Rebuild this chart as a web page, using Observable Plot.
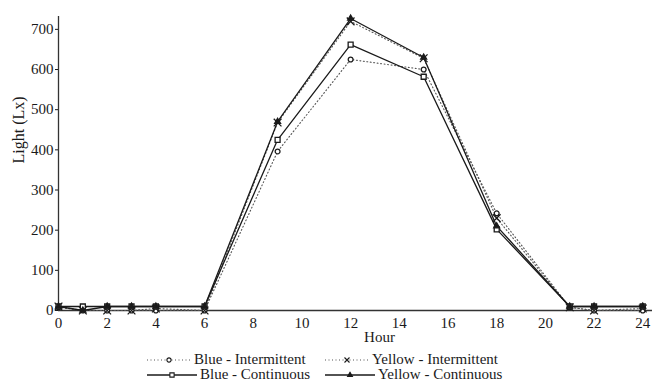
<!DOCTYPE html>
<html>
<head>
<meta charset="utf-8">
<script src="https://cdn.jsdelivr.net/npm/d3@7"></script>
<script src="https://cdn.jsdelivr.net/npm/@observablehq/plot@0.6"></script>
<style>
  body { margin: 0; background: #fff; }
  #wrap { position: relative; width: 654px; height: 382px; font-family: "Liberation Serif", "Times New Roman", serif; }
  #legend { position: absolute; left: 0; top: 350px; width: 654px; height: 32px; font-size: 15px; color: #1a1a1a; }
  .item { position: absolute; display: flex; align-items: center; white-space: nowrap; line-height: 15px; }
  .item svg { display: block; margin-right: 3px; }
</style>
</head>
<body>
<div id="wrap">
  <div id="chart"></div>
  <div id="legend"></div>
</div>
<script>
const hours = [0, 1, 2, 3, 4, 6, 9, 12, 15, 18, 21, 22, 24];
const blueIntermittent = [8, 0, 0, 0, 0, 0, 396, 625, 600, 242, 8, 0, 0];
const blueContinuous = [10, 10, 10, 10, 10, 10, 425, 662, 582, 202, 10, 10, 10];
const yellowIntermittent = [10, 0, 0, 0, 5, 0, 468, 720, 628, 230, 8, 0, 5];
const yellowContinuous = [10, 0, 10, 10, 10, 10, 470, 727, 630, 210, 10, 10, 10];
const xTicks = [0, 2, 4, 6, 8, 10, 12, 14, 16, 18, 20, 22, 24];
const yTicks = [0, 100, 200, 300, 400, 500, 600, 700];

const seriesNames = ["Blue - Intermittent", "Yellow - Intermittent", "Blue - Continuous", "Yellow - Continuous"];
const seriesValues = [blueIntermittent, yellowIntermittent, blueContinuous, yellowContinuous];
const styles = {
  "Blue - Intermittent": {dash: "1,2.5", stroke: "#555", width: 1.1, symbol: "circle", fill: "white", r: 2.4},
  "Yellow - Intermittent": {dash: "1,2.5", stroke: "#555", width: 1.1, symbol: "times", fill: "none", r: 3.6},
  "Blue - Continuous": {dash: null, stroke: "#1a1a1a", width: 1.3, symbol: "square", fill: "white", r: 2.8},
  "Yellow - Continuous": {dash: null, stroke: "#1a1a1a", width: 1.3, symbol: "triangle", fill: "#1a1a1a", r: 2.2}
};

const rows = seriesNames.map((name, k) => hours.map((h, i) => ({hour: h, value: seriesValues[k][i], series: name})));

const marks = [];
rows.forEach((data, k) => {
  const s = styles[seriesNames[k]];
  marks.push(Plot.line(data, {x: "hour", y: "value", stroke: s.stroke, strokeWidth: s.width, strokeDasharray: s.dash || undefined}));
});
rows.forEach((data, k) => {
  const s = styles[seriesNames[k]];
  marks.push(Plot.dot(data, {x: "hour", y: "value", symbol: () => s.symbol, r: s.r, stroke: "#1a1a1a", strokeWidth: 1.3, fill: s.fill === "none" ? "none" : s.fill}));
});

const chart = Plot.plot({
  width: 654,
  height: 350,
  marginLeft: 58,
  marginRight: 2,
  marginTop: 16,
  marginBottom: 40,
  style: {fontFamily: "'Liberation Serif', 'Times New Roman', serif", fontSize: "15px", color: "#1a1a1a", background: "white"},
  x: {domain: [0, 24.4]},
  y: {domain: [0, 732]},
  symbol: {type: "identity"},
  marks: [
    Plot.ruleY([0], {stroke: "#333", strokeWidth: 1.3}),
    Plot.ruleX([0], {stroke: "#333", strokeWidth: 1.3}),
    Plot.axisX({ticks: xTicks, tickSize: 0, tickPadding: 7, label: null, fontSize: 15}),
    Plot.axisY({ticks: yTicks, tickSize: 3, tickPadding: 2, label: null, fontSize: 15}),
    Plot.text(["Light (Lx)"], {frameAnchor: "left", text: d => d, dx: -40, rotate: -90, fontSize: 16, fill: "#1a1a1a"}),
    Plot.text(["Hour"], {frameAnchor: "bottom", text: d => d, dx: 24, dy: 31, fontSize: 15, fill: "#1a1a1a"}),
    ...marks
  ]
});
document.getElementById("chart").appendChild(chart);

// legend
const legend = d3.select("#legend");
const legendPos = {
  "Blue - Intermittent": {left: 147, top: 2},
  "Yellow - Intermittent": {left: 325, top: 2},
  "Blue - Continuous": {left: 147, top: 17},
  "Yellow - Continuous": {left: 325, top: 17}
};
seriesNames.forEach(name => {
  const s = styles[name];
  const p = legendPos[name];
  const item = legend.append("div").attr("class", "item").style("left", p.left + "px").style("top", p.top + "px");
  const w = s.dash ? 44 : 50;
  const svg = item.append("svg").attr("width", w).attr("height", 12);
  svg.append("line").attr("x1", 0).attr("x2", w).attr("y1", 6).attr("y2", 6)
    .attr("stroke", s.stroke).attr("stroke-width", s.width).attr("stroke-dasharray", s.dash);
  const sym = {circle: d3.symbolCircle, square: d3.symbolSquare, times: d3.symbolTimes, triangle: d3.symbolTriangle}[s.symbol];
  const size = s.symbol === "circle" ? 14 : s.symbol === "times" ? 18 : s.symbol === "triangle" ? 10 : 18;
  svg.append("path").attr("d", d3.symbol(sym, size)()).attr("transform", `translate(${w / 2},6)`)
    .attr("stroke", "#1a1a1a").attr("stroke-width", 1.1).attr("fill", s.fill === "none" ? "none" : s.fill);
  item.append("span").text(name);
});
</script>
</body>
</html>
